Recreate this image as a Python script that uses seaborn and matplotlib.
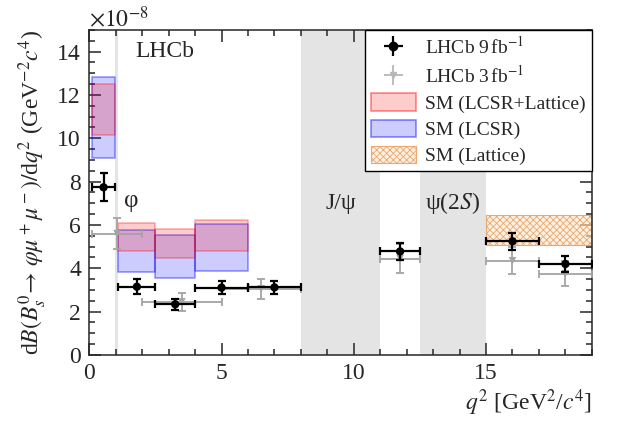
import matplotlib
matplotlib.use("Agg")
import matplotlib.pyplot as plt
import numpy as np
import pandas as pd
import seaborn as sns
from matplotlib.patches import Patch
from matplotlib.ticker import MultipleLocator

# LHCb 9 fb-1 measurement (units 1e-8 GeV^-2 c^4)
q2_lo_9 = [0.1, 1.1, 2.5, 4.0, 6.0, 11.0, 15.0, 17.0]
q2_hi_9 = [0.98, 2.5, 4.0, 6.0, 8.0, 12.5, 17.0, 19.0]
br_9 = [7.74, 3.15, 2.34, 3.11, 3.12, 4.78, 5.25, 4.20]
err_9 = [0.65, 0.34, 0.25, 0.30, 0.30, 0.40, 0.40, 0.35]

# LHCb 3 fb-1 measurement
q2_lo_3 = [0.1, 2.0, 5.0, 11.0, 15.0, 17.0]
q2_hi_3 = [2.0, 5.0, 8.0, 12.5, 17.0, 19.0]
br_3 = [5.6, 2.45, 3.05, 4.45, 4.35, 3.75]
err_3 = [0.72, 0.43, 0.45, 0.65, 0.62, 0.58]

# SM predictions
sm_lo = [0.1, 1.1, 2.5, 4.0]
sm_hi = [0.98, 2.5, 4.0, 6.0]
lcsr_lat_min = [10.15, 4.81, 4.49, 4.80]
lcsr_lat_max = [12.50, 6.08, 5.80, 6.23]
lcsr_min = [9.08, 3.82, 3.54, 3.89]
lcsr_max = [12.81, 5.77, 5.54, 6.05]
lat_lo = [15.0]
lat_hi = [19.0]
lat_min = [5.08]
lat_max = [6.46]

# vetoed regions
veto_lo = [0.98, 8.0, 12.5]
veto_hi = [1.1, 11.0, 15.0]

sns.set_style("ticks")
plt.rcParams['font.family'] = ['Liberation Serif', 'DejaVu Serif']
plt.rcParams['mathtext.fontset'] = 'stix'
plt.rcParams['hatch.linewidth'] = 0.6

df9 = pd.DataFrame(dict(lo=q2_lo_9, hi=q2_hi_9, br=br_9, err=err_9))
df9['mid'] = (df9.lo + df9.hi) / 2
df3 = pd.DataFrame(dict(lo=q2_lo_3, hi=q2_hi_3, br=br_3, err=err_3))
df3['mid'] = (df3.lo + df3.hi) / 2

fig = plt.figure(figsize=(6.23, 4.23), dpi=100)
ax = fig.add_axes([0.1433, 0.1608, 0.8067, 0.7683])

for lo, hi in zip(veto_lo, veto_hi):
    ax.axvspan(lo, hi, color='#e4e4e4', lw=0, zorder=0)

for lo, hi, a, b in zip(sm_lo, sm_hi, lcsr_min, lcsr_max):
    ax.fill_between([lo, hi], a, b, facecolor=(0, 0, 1, 0.2),
                    edgecolor=(0, 0, 1, 0.4), lw=1.2, zorder=1)
for lo, hi, a, b in zip(sm_lo, sm_hi, lcsr_lat_min, lcsr_lat_max):
    ax.fill_between([lo, hi], a, b, facecolor=(1, 0, 0, 0.2),
                    edgecolor=(1, 0, 0, 0.3), lw=1.2, zorder=1)
for lo, hi, a, b in zip(lat_lo, lat_hi, lat_min, lat_max):
    ax.fill_between([lo, hi], a, b, facecolor=(1, 0.9, 0.8, 0.6),
                    edgecolor='#e8a870', hatch='xxxxx', lw=0.8, zorder=1)

e3 = ax.errorbar(df3.mid, df3.br, yerr=df3.err,
                 xerr=[df3.mid - df3.lo, df3.hi - df3.mid],
                 fmt='none', ecolor='#a4a4a4', elinewidth=1.3, capsize=3,
                 capthick=1.3, zorder=3)
sns.scatterplot(data=df3, x='mid', y='br', ax=ax, marker='v', s=30,
                color='#a4a4a4', edgecolor='none', zorder=3)
e9 = ax.errorbar(df9.mid, df9.br, yerr=df9.err,
                 xerr=[df9.mid - df9.lo, df9.hi - df9.mid],
                 fmt='none', ecolor='black', elinewidth=1.6, capsize=3,
                 capthick=1.6, zorder=4)
sns.scatterplot(data=df9, x='mid', y='br', ax=ax, marker='o', s=36,
                color='black', edgecolor='none', zorder=5)

ax.text(9.5, 7.0, 'J/ψ', fontsize=17, ha='center', va='center')
ax.text(13.75, 7.0, r'ψ(2$S$)', fontsize=17, ha='center', va='center')
ax.text(1.6, 7.1, 'φ', fontsize=18, ha='center', va='center')
ax.text(1.75, 14.0, 'LHCb', fontsize=17, ha='left', va='center')

ax.set_xlim(0, 19)
ax.set_ylim(0, 15)
ax.xaxis.set_major_locator(MultipleLocator(5))
ax.xaxis.set_minor_locator(MultipleLocator(1))
ax.yaxis.set_major_locator(MultipleLocator(2))
ax.yaxis.set_minor_locator(MultipleLocator(0.5))
ax.tick_params(which='both', direction='in', top=True, right=True,
               labelsize=17, width=1.1, pad=6)
ax.tick_params(which='major', length=8.5)
ax.tick_params(which='minor', length=4.3)
for sp in ax.spines.values():
    sp.set_linewidth(1.1)

ax.set_xlabel(r'$q^2$ [GeV$^2$/$c^4$]', fontsize=17, loc='right', labelpad=2)
ax.set_ylabel(r'd$\mathit{B}(B^0_s\!\rightarrow\,\varphi\mu^+\mu^-)/$d$q^2$ (GeV$^{-2}c^4$)',
              fontsize=17, labelpad=6)
fig.text(0.1433, 0.955, r'$\times10^{-8}$', fontsize=17, ha='left', va='center')

h9 = ax.errorbar([], [], yerr=[], xerr=[], fmt='o', color='black', ms=6,
                 elinewidth=1.6, capsize=4, capthick=1.6)
h3 = ax.errorbar([], [], yerr=[], xerr=[], fmt='v', color='#b8b8b8', ms=5,
                 elinewidth=1.3, capsize=4, capthick=1.3)
p1 = Patch(facecolor=(1, 0, 0, 0.2), edgecolor=(1, 0, 0, 0.45), lw=1.2)
p2 = Patch(facecolor=(0, 0, 1, 0.2), edgecolor=(0, 0, 1, 0.45), lw=1.2)
p3 = Patch(facecolor=(1, 0.9, 0.8, 0.6), edgecolor='#e8a870', hatch='xxxxx', lw=0.8)
leg = ax.legend([h9, h3, p1, p2, p3],
                [r'LHCb 9$\,$fb$^{-1}$', r'LHCb 3$\,$fb$^{-1}$',
                 'SM (LCSR+Lattice)', 'SM (LCSR)', 'SM (Lattice)'],
                loc='upper right', bbox_to_anchor=(1.0, 1.0), borderaxespad=0,
                fontsize=14, fancybox=False, framealpha=1, edgecolor='black',
                handlelength=2.3, handleheight=1.0, labelspacing=0.35,
                borderpad=0.3, handletextpad=0.5)
leg.get_frame().set_linewidth(1.0)
leg.set_zorder(10)

fig.savefig('out.png', dpi=100)
